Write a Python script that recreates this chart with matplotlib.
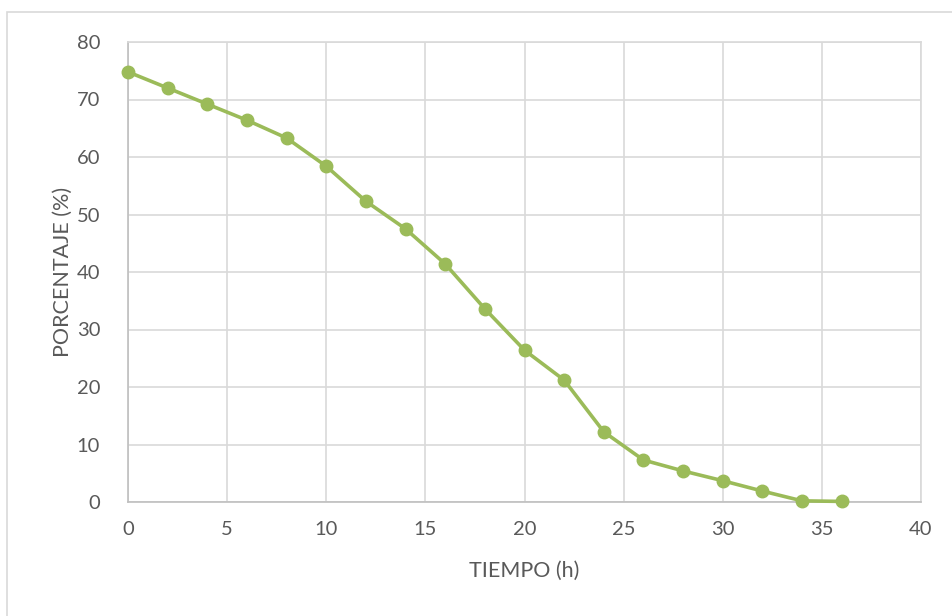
import matplotlib

matplotlib.use("Agg")
import matplotlib.pyplot as plt
from matplotlib.patches import Rectangle

plt.rcParams["font.family"] = ["Lato", "DejaVu Sans"]

tiempo = [0, 2, 4, 6, 8, 10, 12, 14, 16, 18, 20, 22, 24, 26, 28, 30, 32, 34, 36]
porcentaje = [74.8, 72.0, 69.2, 66.4, 63.3, 58.4, 52.3, 47.5, 41.4, 33.6,
              26.4, 21.2, 12.2, 7.3, 5.4, 3.7, 1.9, 0.2, 0.1]

GREEN = "#9bbb59"
GRID = "#d9d9d9"
TEXT = "#595959"

fig = plt.figure(figsize=(9.52, 6.16), dpi=100)
ax = fig.add_axes([128 / 952, 1 - 502 / 616, (921 - 128) / 952, (502 - 42) / 616])

# chart area border
fig.patches.append(Rectangle((7 / 952, -0.01), 1.0, 1 - 12 / 616 + 0.01,
                             transform=fig.transFigure, fill=False,
                             edgecolor=GRID, lw=1.2))

ax.plot(tiempo, porcentaje, color=GREEN, lw=2.6, marker="o", ms=9,
        markerfacecolor=GREEN, markeredgecolor=GREEN, clip_on=False, zorder=3)

ax.set_xlim(0, 40)
ax.set_ylim(0, 80)
ax.set_xticks(range(0, 41, 5))
ax.set_yticks(range(0, 81, 10))
ax.grid(True, color=GRID, lw=1.2)
ax.set_axisbelow(True)
for side, sp in ax.spines.items():
    sp.set_color("#bfbfbf" if side in ("left", "bottom") else GRID)
    sp.set_linewidth(1.2)
ax.tick_params(length=0, labelsize=14.5, labelcolor=TEXT)
ax.tick_params(axis="x", pad=14)
ax.tick_params(axis="y", pad=20)

ax.set_xlabel("TIEMPO (h)", fontsize=15.5, color=TEXT, labelpad=16)
ax.set_ylabel("PORCENTAJE (%)", fontsize=15.5, color=TEXT, labelpad=3)

fig.savefig("out.png", dpi=100)
